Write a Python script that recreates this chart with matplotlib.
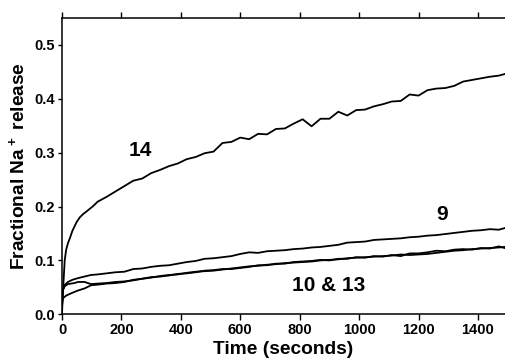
# Fractional Na+ release over time for compounds 9, 10, 13 and 14
import matplotlib.pyplot as plt

plt.rcParams['font.family'] = 'Liberation Sans'
plt.rcParams['font.weight'] = 'bold'
plt.rcParams['mathtext.fontset'] = 'custom'
plt.rcParams['mathtext.rm'] = 'Liberation Sans:bold'
plt.rcParams['mathtext.bf'] = 'Liberation Sans:bold'

# values (seconds, fraction released)
t_14 = [0, 2, 4, 6, 9, 14, 20, 27, 35, 49, 60, 71, 85, 105,
        120, 150, 180, 210, 240, 270, 300, 330, 360, 390, 420, 450,
        480, 510, 540, 570, 600, 630, 660, 690, 720, 750, 780, 810,
        840, 870, 900, 930, 960, 990, 1020, 1050, 1080, 1110, 1140,
        1170, 1200, 1230, 1260, 1290, 1320, 1350, 1380, 1410, 1440,
        1470, 1490]
y_14 = [0.0, 0.03, 0.05, 0.07, 0.10, 0.12, 0.132, 0.142, 0.155, 0.171,
        0.180, 0.186, 0.192, 0.201,
        0.209, 0.218, 0.228, 0.238, 0.248, 0.252, 0.262, 0.268, 0.275,
        0.280, 0.288, 0.292, 0.299, 0.302, 0.318, 0.320, 0.328, 0.325,
        0.335, 0.334, 0.344, 0.345, 0.354, 0.362, 0.349, 0.363, 0.363,
        0.376, 0.369, 0.379, 0.380, 0.386, 0.390, 0.395, 0.396, 0.408,
        0.406, 0.416, 0.419, 0.420, 0.424, 0.432, 0.435, 0.438, 0.441,
        0.443, 0.446]

t_9 = [0, 3, 10, 20, 35, 53, 75, 98, 120, 150, 180, 210, 240, 270,
       300, 330, 360, 390, 420, 450, 480, 510, 540, 570, 600, 630, 660,
       690, 720, 750, 780, 810, 840, 870, 900, 930, 960, 990, 1020,
       1050, 1080, 1110, 1140, 1170, 1200, 1230, 1260, 1290, 1320, 1350,
       1380, 1410, 1440, 1470, 1490]
y_9 = [0.02, 0.045, 0.055, 0.060, 0.064, 0.067, 0.070, 0.073, 0.074,
       0.076, 0.078, 0.079, 0.084, 0.085, 0.088, 0.090, 0.091, 0.094,
       0.097, 0.099, 0.103, 0.104, 0.106, 0.108, 0.112, 0.115, 0.114,
       0.117, 0.118, 0.119, 0.121, 0.122, 0.124, 0.125, 0.127, 0.129,
       0.133, 0.134, 0.135, 0.138, 0.139, 0.140, 0.141, 0.143, 0.144,
       0.146, 0.147, 0.149, 0.151, 0.153, 0.155, 0.156, 0.158, 0.157,
       0.160]

t_10 = [0, 3, 15, 31, 53, 76, 98, 120, 150, 180, 210, 240, 270, 300,
        330, 360, 390, 420, 450, 480, 510, 540, 570, 600, 630, 660, 690,
        720, 750, 780, 810, 840, 870, 900, 930, 960, 990, 1020, 1050,
        1080, 1110, 1140, 1170, 1200, 1230, 1260, 1290, 1320, 1350, 1380,
        1410, 1440, 1470, 1490]
y_10 = [0.015, 0.030, 0.035, 0.039, 0.044, 0.048, 0.054, 0.055, 0.057,
        0.058, 0.060, 0.064, 0.066, 0.068, 0.071, 0.073, 0.074, 0.077,
        0.079, 0.080, 0.081, 0.083, 0.085, 0.087, 0.089, 0.090, 0.092,
        0.093, 0.095, 0.096, 0.097, 0.098, 0.100, 0.101, 0.102, 0.104,
        0.105, 0.106, 0.107, 0.108, 0.109, 0.111, 0.110, 0.111, 0.112,
        0.114, 0.116, 0.118, 0.119, 0.121, 0.122, 0.123, 0.124, 0.125]

t_13 = [0, 3, 9, 20, 31, 42, 54, 76, 98, 120, 150, 180, 210, 240, 270,
        300, 330, 360, 390, 420, 450, 480, 510, 540, 570, 600, 630, 660,
        690, 720, 750, 780, 810, 840, 870, 900, 930, 960, 990, 1020,
        1050, 1080, 1110, 1140, 1170, 1200, 1230, 1260, 1290, 1320, 1350,
        1380, 1410, 1440, 1470, 1490]
y_13 = [0.02, 0.045, 0.052, 0.056, 0.057, 0.058, 0.060, 0.060, 0.056,
        0.057, 0.058, 0.060, 0.061, 0.063, 0.066, 0.069, 0.070, 0.072,
        0.075, 0.076, 0.078, 0.081, 0.082, 0.084, 0.084, 0.086, 0.088,
        0.091, 0.091, 0.094, 0.094, 0.097, 0.098, 0.099, 0.101, 0.100,
        0.103, 0.103, 0.106, 0.105, 0.108, 0.107, 0.110, 0.108, 0.113,
        0.113, 0.115, 0.118, 0.117, 0.120, 0.121, 0.120, 0.123, 0.122,
        0.126, 0.123]

# label text and where it sits (data coordinates)
labels = ['14', '9', '10 & 13']
label_x = [262, 1278, 899]
label_y = [0.304, 0.186, 0.054]

fig = plt.figure(figsize=(5.05, 3.63), dpi=100)
ax = fig.add_axes([0.1228, 0.1342, 0.8772, 0.8162])

for t, y in [(t_14, y_14), (t_9, y_9), (t_10, y_10), (t_13, y_13)]:
    ax.plot(t, y, color='black', lw=1.3)

for txt, x, y in zip(labels, label_x, label_y):
    ax.text(x, y, txt, fontsize=15, fontweight='bold',
            ha='center', va='center')

ax.set_xlim(0, 1491)
ax.set_ylim(0, 0.55)
ax.set_xticks(range(0, 1401, 200))
ax.set_yticks([0.0, 0.1, 0.2, 0.3, 0.4, 0.5])
ax.set_yticklabels(['0.0', '0.1', '0.2', '0.3', '0.4', '0.5'])

ax.spines['right'].set_visible(False)
for s in ['left', 'bottom', 'top']:
    ax.spines[s].set_linewidth(1.1)

ax.tick_params(axis='x', top=True, labeltop=False, direction='out',
               length=4.2, width=1, labelsize=10.5, pad=2)
ax.tick_params(axis='y', direction='out', length=3, width=1,
               labelsize=10.5, pad=2)

ax.set_xlabel('Time (seconds)', fontsize=13.8, fontweight='bold', labelpad=3)
ax.set_ylabel('Fractional Na$^+$ release', fontsize=13.8,
              fontweight='bold', labelpad=4)

fig.savefig('out.png', dpi=100)
